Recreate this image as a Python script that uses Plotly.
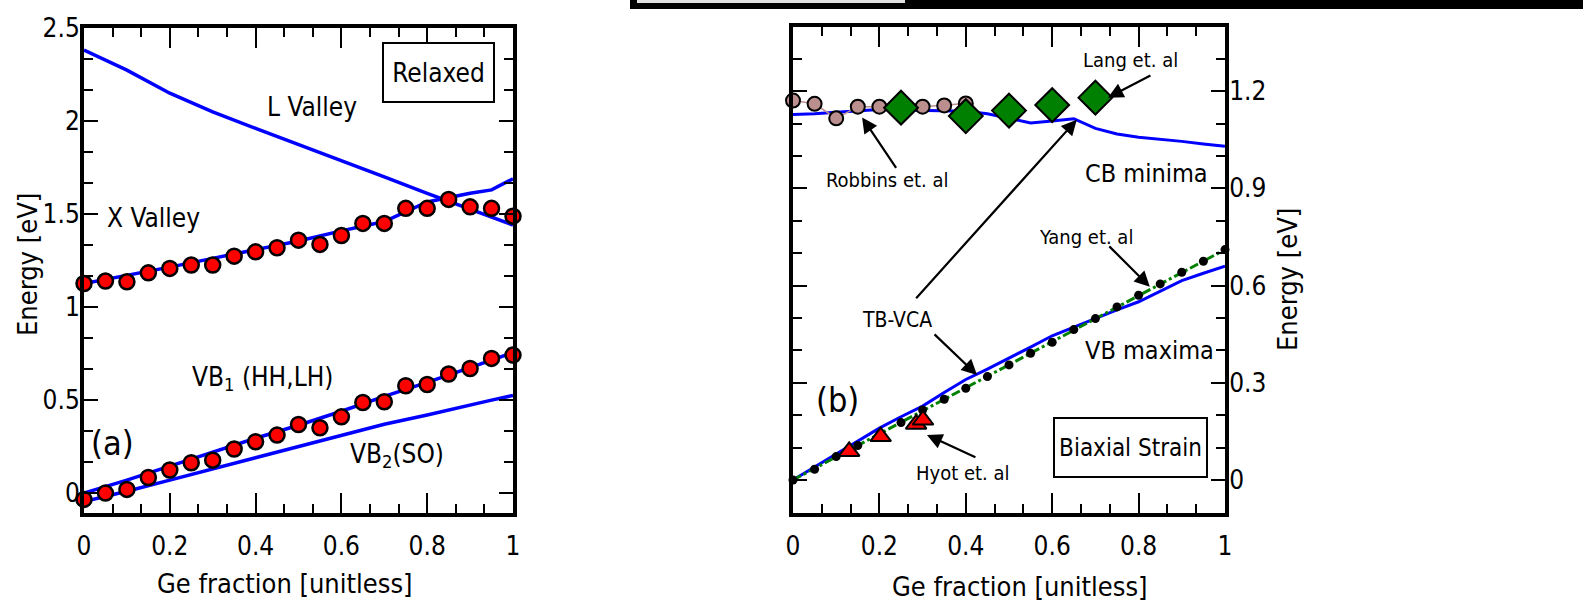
import plotly.graph_objects as go

W, H = 1583, 608
FONT = "DejaVu Sans Condensed, DejaVu Sans, sans-serif"

# ---------------- Panel (a): relaxed ----------------
x_line = [0.0, 0.1, 0.2, 0.3, 0.4, 0.5, 0.6, 0.7, 0.8, 0.9, 0.95, 1.0]
l_valley = [2.382, 2.274, 2.15, 2.05, 1.961, 1.875, 1.79, 1.70, 1.611, 1.525, 1.483, 1.441]
x_valley = [1.127, 1.17, 1.215, 1.262, 1.31, 1.355, 1.41, 1.46, 1.565, 1.612, 1.630, 1.69]
vb1_line = [0.0, 0.07, 0.145, 0.22, 0.295, 0.365, 0.44, 0.52, 0.595, 0.675, 0.715, 0.755]
vb2_line = [-0.045, 0.01, 0.07, 0.13, 0.19, 0.25, 0.31, 0.37, 0.42, 0.475, 0.50, 0.525]

x_pts = [0.0, 0.05, 0.1, 0.15, 0.2, 0.25, 0.3, 0.35, 0.4, 0.45, 0.5,
         0.55, 0.6, 0.65, 0.7, 0.75, 0.8, 0.85, 0.9, 0.95, 1.0]
x_valley_pts = [1.127, 1.140, 1.136, 1.184, 1.208, 1.226, 1.226, 1.274, 1.297, 1.319, 1.360,
                1.337, 1.385, 1.450, 1.450, 1.531, 1.531, 1.579, 1.539, 1.531, 1.489]
vb_pts = [-0.034, 0.0, 0.02, 0.084, 0.124, 0.163, 0.177, 0.237, 0.276, 0.312, 0.369,
          0.351, 0.410, 0.487, 0.491, 0.577, 0.584, 0.640, 0.670, 0.724, 0.742]

# ---------------- Panel (b): biaxial strain ----------------
xb_line = [0.0, 0.05, 0.1, 0.15, 0.2, 0.25, 0.3, 0.35, 0.4, 0.45, 0.5,
           0.55, 0.6, 0.65, 0.7, 0.75, 0.8, 0.85, 0.9, 0.95, 1.0]
cb_min = [1.128, 1.130, 1.135, 1.138, 1.143, 1.142, 1.140, 1.140, 1.138, 1.130, 1.115,
          1.102, 1.108, 1.115, 1.085, 1.068, 1.058, 1.052, 1.045, 1.037, 1.030]
vb_max = [0.0, 0.04, 0.08, 0.12, 0.16, 0.195, 0.228, 0.27, 0.31, 0.342, 0.375,
          0.41, 0.445, 0.472, 0.50, 0.525, 0.55, 0.582, 0.615, 0.638, 0.66]

robbins_x = [0.0, 0.05, 0.1, 0.15, 0.2, 0.25, 0.3, 0.35, 0.4]
robbins_y = [1.171, 1.161, 1.116, 1.152, 1.152, 1.149, 1.152, 1.156, 1.162]

lang_x = [0.25, 0.4, 0.5, 0.6, 0.7]
lang_y = [1.149, 1.123, 1.140, 1.157, 1.180]

yang_x = [0.0, 0.05, 0.1, 0.15, 0.2, 0.25, 0.3, 0.35, 0.4, 0.45, 0.5,
          0.55, 0.6, 0.65, 0.7, 0.75, 0.8, 0.85, 0.9, 0.95, 1.0]
yang_y = [0.0, 0.033, 0.072, 0.106, 0.140, 0.177, 0.216, 0.249, 0.283, 0.319, 0.355,
          0.391, 0.425, 0.464, 0.498, 0.534, 0.570, 0.605, 0.641, 0.675, 0.711]
yang_fit_x = [0.0, 1.0]
yang_fit_y = [0.0, 0.711]

hyot_x = [0.130, 0.203, 0.285, 0.301]
hyot_y = [0.088, 0.134, 0.172, 0.185]

BLUE = "#0000ff"
RED = "#ff0000"
GREEN = "#008000"
ROSY = "#bc8f8f"

fig = go.Figure()

# panel (a)
for ys in (l_valley, x_valley, vb1_line, vb2_line):
    fig.add_trace(go.Scatter(x=x_line, y=ys, mode="lines", line=dict(color=BLUE, width=3.5),
                             xaxis="x", yaxis="y", showlegend=False, hoverinfo="skip"))
for ys in (x_valley_pts, vb_pts):
    fig.add_trace(go.Scatter(x=x_pts, y=ys, mode="markers",
                             marker=dict(color=RED, size=15, line=dict(color="black", width=2.5)),
                             cliponaxis=False, xaxis="x", yaxis="y", showlegend=False))

# panel (b)
fig.add_trace(go.Scatter(x=xb_line, y=cb_min, mode="lines", line=dict(color=BLUE, width=3),
                         xaxis="x2", yaxis="y2", showlegend=False))
fig.add_trace(go.Scatter(x=xb_line, y=vb_max, mode="lines", line=dict(color=BLUE, width=3),
                         xaxis="x2", yaxis="y2", showlegend=False))
fig.add_trace(go.Scatter(x=yang_fit_x, y=yang_fit_y, mode="lines",
                         line=dict(color=GREEN, width=3, dash="dashdot"),
                         xaxis="x2", yaxis="y2", showlegend=False))
fig.add_trace(go.Scatter(x=yang_x, y=yang_y, mode="markers",
                         marker=dict(color="black", size=9),
                         cliponaxis=False, xaxis="x2", yaxis="y2", showlegend=False))
fig.add_trace(go.Scatter(x=robbins_x, y=robbins_y, mode="lines+markers",
                         line=dict(color=ROSY, width=1.5),
                         marker=dict(color=ROSY, size=14, line=dict(color="black", width=2)),
                         cliponaxis=False, xaxis="x2", yaxis="y2", showlegend=False))
fig.add_trace(go.Scatter(x=lang_x, y=lang_y, mode="markers",
                         marker=dict(symbol="diamond", color=GREEN, size=26,
                                     line=dict(color="black", width=2)),
                         cliponaxis=False, xaxis="x2", yaxis="y2", showlegend=False))
fig.add_trace(go.Scatter(x=hyot_x, y=hyot_y, mode="markers",
                         marker=dict(symbol="triangle-up", color=RED, size=18,
                                     line=dict(color="black", width=2)),
                         cliponaxis=False, xaxis="x2", yaxis="y2", showlegend=False))


def px(xp):
    return xp / W


def py(yp):
    return 1 - yp / H


tickfont = dict(family=FONT, size=26, color="black")
common = dict(showline=True, linecolor="black", linewidth=4, mirror="allticks",
              ticks="inside", tickcolor="black", tickwidth=2, showgrid=False,
              zeroline=False, tickfont=tickfont, automargin=False)
minor_x = dict(dtick=0.2 / 3, ticklen=9, ticks="inside", tickcolor="black", tickwidth=2)

fig.update_layout(
    width=W, height=H, autosize=False,
    margin=dict(l=0, r=0, t=0, b=0, pad=0, autoexpand=False),
    paper_bgcolor="white", plot_bgcolor="white",
    font=dict(family=FONT, color="black"),
    xaxis=dict(domain=[px(84), px(513)], range=[0, 1], dtick=0.2, ticklen=20,
               minor=minor_x, anchor="y", ticklabelstandoff=7, **common),
    yaxis=dict(domain=[py(513), py(28)], range=[-0.107, 2.5005], dtick=0.5, ticklen=14,
               minor=dict(dtick=0.5 / 3, ticklen=9, ticks="inside", tickcolor="black", tickwidth=2),
               anchor="x", ticklabelstandoff=-5, **common),
    xaxis2=dict(domain=[px(793), px(1225)], range=[0, 1], dtick=0.2, ticklen=20,
                minor=minor_x, anchor="y2", ticklabelstandoff=7, **common),
    yaxis2=dict(domain=[py(513), py(27)], range=[-0.102, 1.398], dtick=0.3, ticklen=14,
                side="right",
                minor=dict(dtick=0.1, ticklen=9, ticks="inside", tickcolor="black", tickwidth=2),
                anchor="x2", ticklabelstandoff=-5, **common),
)

ann = []


def text(x, y, s, size=24, **kw):
    ann.append(dict(x=px(x), y=py(y), xref="paper", yref="paper", text=s, showarrow=False,
                    xanchor="center", yanchor="middle",
                    font=dict(family=FONT, size=size, color="black"), **kw))


# axis titles
text(285, 583, "Ge fraction [unitless]", 27)
text(1020, 586, "Ge fraction [unitless]", 27)
text(27, 265, "Energy [eV]", 27, textangle=-90)
text(1287, 280, "Energy [eV]", 27, textangle=-90)

# panel (a) labels
text(438, 72, "Relaxed", 26, bordercolor="black", borderwidth=2, borderpad=4,
     width=101, height=49, bgcolor="white")
text(312, 107, "L Valley", 26)
text(153, 218, "X Valley", 26)
text(262, 378, "VB<sub>1</sub> (HH,LH)", 26)
text(397, 455, "VB<sub>2</sub>(SO)", 26)
text(112, 443, "(a)", 34)

# panel (b) labels
text(1130, 447, "Biaxial Strain", 24, bordercolor="black", borderwidth=2, borderpad=2,
     width=147, height=53, bgcolor="white")
text(1146, 173, "CB minima", 25)
text(1149, 350, "VB maxima", 25)
text(837, 400, "(b)", 34)
text(1130, 60, "Lang et. al", 20)
text(887, 180, "Robbins et. al", 20)
text(1086, 237, "Yang et. al", 20)
text(897, 320, "TB-VCA", 21)
text(963, 473, "Hyot et. al", 20)


def arrow(xd, yd, ax, ay):
    ann.append(dict(x=xd, y=yd, xref="x2", yref="y2", ax=ax, ay=ay, axref="pixel", ayref="pixel",
                    text="", showarrow=True, arrowhead=2, arrowsize=1.4, arrowwidth=2.2,
                    arrowcolor="black"))


arrow(0.729, 1.180, 44, -23)
arrow(0.160, 1.119, 35, 52)
arrow(0.657, 1.112, -162, 180)
arrow(0.426, 0.324, -44, -42)
arrow(0.826, 0.596, -42, -42)
arrow(0.310, 0.139, 50, 23)

fig.update_layout(annotations=ann)

# decorative bar at top right (edge of a neighbouring frame)
fig.add_shape(type="rect", xref="paper", yref="paper", x0=px(630), x1=1, y0=py(9), y1=1,
              fillcolor="black", line=dict(width=0), layer="above")
fig.add_shape(type="rect", xref="paper", yref="paper", x0=px(637), x1=px(905), y0=py(3), y1=1,
              fillcolor="#e0e0e0", line=dict(width=0), layer="above")

fig.write_html("out.html", config={"displayModeBar": False},
               post_script="document.body.style.margin='0';document.body.style.overflow='hidden';")
